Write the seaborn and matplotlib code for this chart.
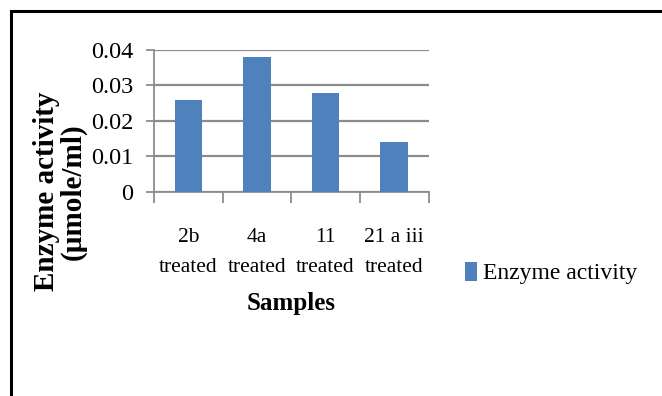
import matplotlib
matplotlib.use("Agg")
import matplotlib.pyplot as plt
import matplotlib.ticker as mticker
from matplotlib.patches import Rectangle
import seaborn as sns

samples = ["2b\ntreated", "4a\ntreated", "11\ntreated", "21 a iii\ntreated"]
activity = [0.026, 0.038, 0.028, 0.014]
series_name = "Enzyme activity"
y_ticks = [0, 0.01, 0.02, 0.03, 0.04]

BAR = "#4F81BD"
GRID = "#8C8C8C"
SERIF = "Liberation Serif"

plt.rcParams["font.family"] = [SERIF, "DejaVu Serif"]

W, H = 662, 396
fig = plt.figure(figsize=(W / 100, H / 100), dpi=100)
fig.patch.set_facecolor("white")

# outer frame (left and top edges visible)
fig.patches.append(Rectangle((11 / W, -0.1), 1.2, 1.1 - 11 / H,
                             transform=fig.transFigure, fill=False,
                             edgecolor="black", linewidth=2.2, zorder=0))

ax = fig.add_axes([154 / W, 1 - 191.7 / H, 274.5 / W, (191.7 - 50) / H])

sns.barplot(x=samples, y=activity, color=BAR, width=0.4, saturation=1,
            label=series_name, ax=ax, zorder=3)
if ax.get_legend() is not None:
    ax.get_legend().remove()

ax.set_ylim(0, 0.04)
ax.set_xlim(-0.5, len(samples) - 0.5)
ax.set_yticks(y_ticks)
ax.yaxis.set_major_formatter(mticker.FuncFormatter(lambda v, p: f"{v:g}"))
ax.yaxis.grid(True, color=GRID, linewidth=1.6, zorder=0)
ax.set_axisbelow(True)

for side in ["top", "right"]:
    ax.spines[side].set_visible(False)
for side in ["left", "bottom"]:
    ax.spines[side].set_color(GRID)
    ax.spines[side].set_linewidth(1.3)

ax.tick_params(axis="y", length=6, width=1.3, color=GRID, pad=9,
               labelsize=17.5, labelcolor="black")
ax.tick_params(axis="x", which="major", length=0, pad=26, labelsize=15.5)
ax.set_xticks([i - 0.5 for i in range(len(samples) + 1)], minor=True)
ax.tick_params(axis="x", which="minor", length=8, width=1.3, color=GRID)
for lbl in ax.get_xticklabels():
    lbl.set_linespacing(1.8)

ax.set_xlabel("Samples", fontsize=18, fontweight="bold", labelpad=11)
ax.set_ylabel("Enzyme activity\n(µmole/ml)", fontsize=21, fontweight="bold",
              linespacing=0.95, va="center")
ax.yaxis.set_label_coords((60 - 154) / 274.5, 0.0)

fig.legend(handles=ax.patches[:1], labels=[series_name], loc="center left",
           bbox_to_anchor=(465 / W, 1 - 273 / H), frameon=False,
           fontsize=17, handlelength=0.5, handleheight=0.85,
           handletextpad=0.25, borderpad=0, borderaxespad=0)

fig.savefig("out.png", dpi=100)
